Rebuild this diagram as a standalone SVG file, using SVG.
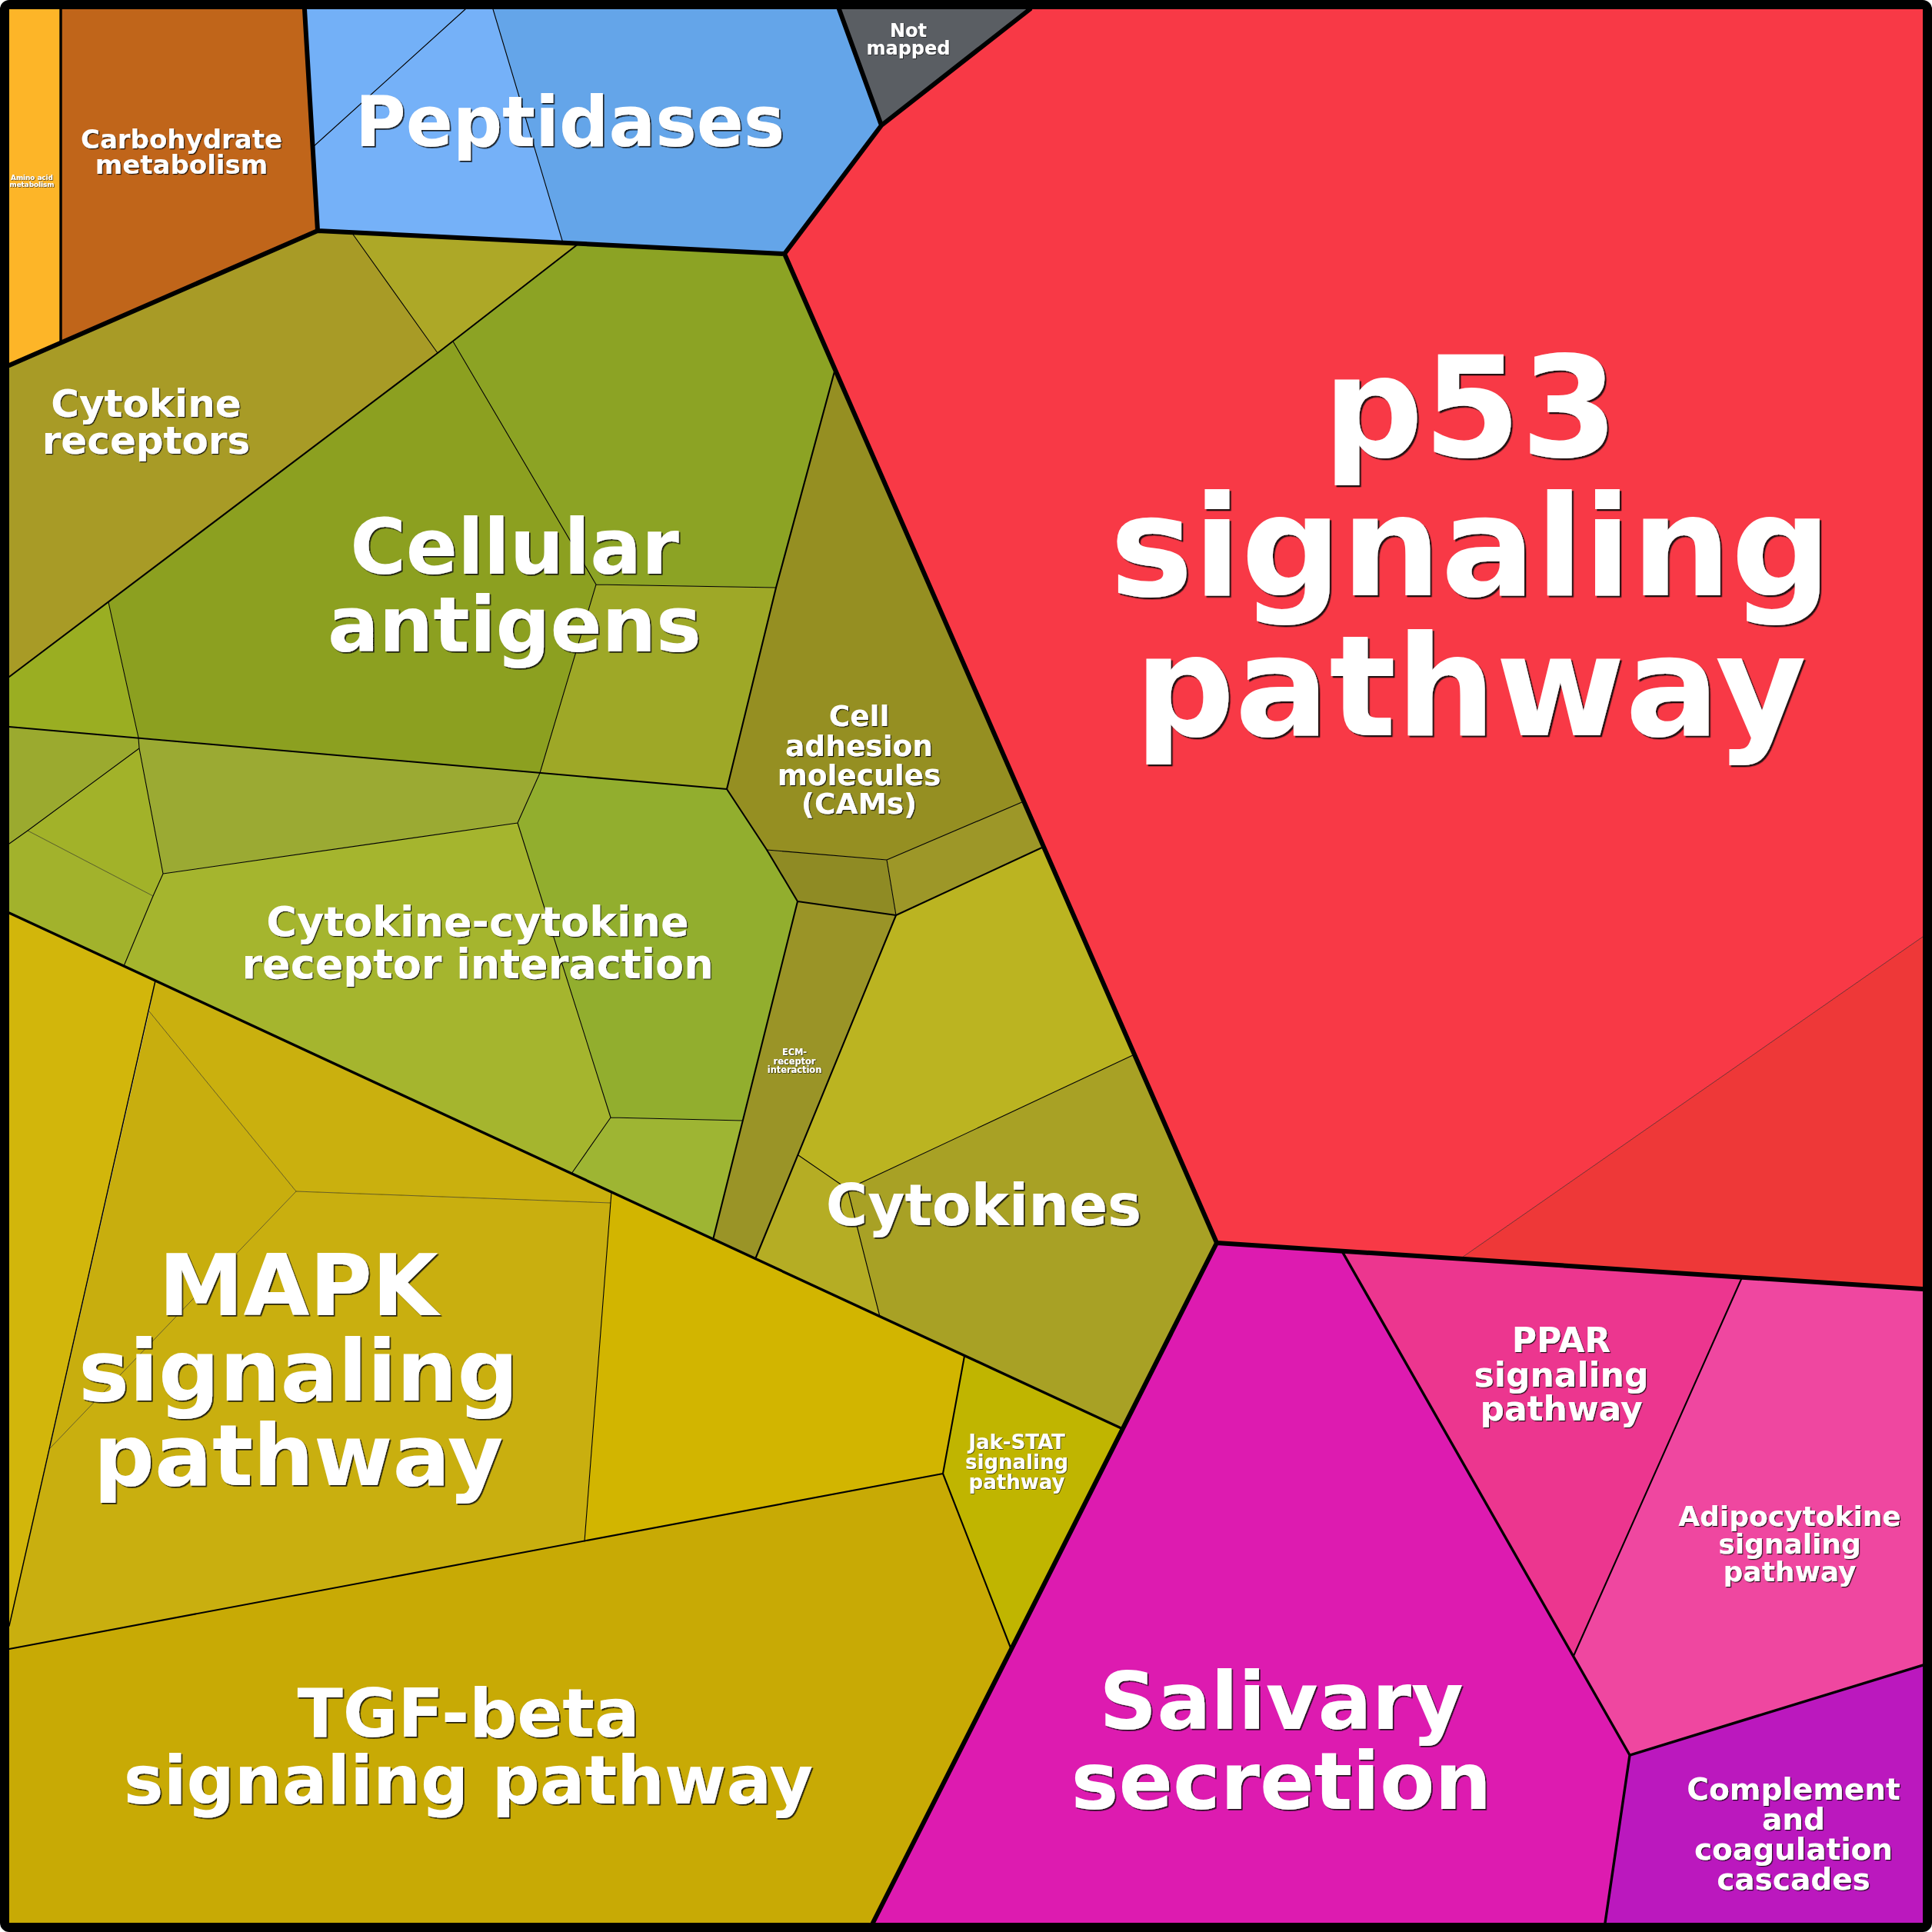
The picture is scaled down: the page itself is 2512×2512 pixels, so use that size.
<svg xmlns="http://www.w3.org/2000/svg" width="2512" height="2512" viewBox="0 0 2512 2512">
<defs>
<filter id="ds1" x="-5%" y="-5%" width="110%" height="110%"><feDropShadow dx="0.7" dy="0.7" stdDeviation="0" flood-color="#111" flood-opacity="0.9"/></filter>
<filter id="ds2" x="-5%" y="-5%" width="110%" height="110%"><feDropShadow dx="1.2" dy="1.2" stdDeviation="0" flood-color="#111" flood-opacity="0.9"/></filter>
<filter id="ds3" x="-5%" y="-5%" width="110%" height="110%"><feDropShadow dx="1.7" dy="1.7" stdDeviation="0" flood-color="#111" flood-opacity="0.9"/></filter>
<filter id="ds4" x="-5%" y="-5%" width="110%" height="110%"><feDropShadow dx="2.3" dy="2.3" stdDeviation="0" flood-color="#111" flood-opacity="0.9"/></filter>
</defs>
<style>
.b1{fill:none;stroke:#000;stroke-width:6;stroke-linejoin:round;stroke-linecap:round}
.b2{fill:none;stroke:#000;stroke-width:3.4;stroke-linejoin:round;stroke-linecap:round}
.b3{fill:none;stroke:#000;stroke-width:2.1;stroke-linejoin:round;stroke-linecap:round}
.b4{fill:none;stroke:#000;stroke-width:1.1;stroke-linejoin:round;stroke-linecap:round}
.b5{fill:none;stroke:#000;stroke-width:0.7;stroke-opacity:0.75;stroke-linejoin:round}
text{font-family:"DejaVu Sans","Liberation Sans",sans-serif;font-weight:bold;text-anchor:middle;fill:#ffffff}
.s1{filter:url(#ds1)}
.s2{filter:url(#ds2)}
.s3{filter:url(#ds3)}
.s4{filter:url(#ds4)}
</style>
<g id="cells">
  <g id="node-amino-acid-metabolism"><polygon points="12,12 79,12 79,446 12,475" fill="#FDB528"/></g>
  <g id="node-carbohydrate-metabolism"><polygon points="79,12 396,12 413,300 79,446" fill="#C0651A"/></g>
  <g id="node-peptidases">
    <polygon points="396,12 605,12 407,191" fill="#73B0F7"/>
    <polygon points="605,12 641,12 732,316 413,300 407,191" fill="#75B1F8"/>
    <polygon points="641,12 1091,12 1146,163 1020,330 732,316" fill="#64A5E9"/>
  </g>
  <g id="node-not-mapped"><polygon points="1091,12 1339,12 1146,163" fill="#5A5E63"/></g>
  <g id="node-p53">
    <polygon points="1339,12 2500,12 2500,1218 1898,1637 1582,1616 1020,330 1146,163" fill="#F83946"/>
    <polygon points="1898,1637 2500,1218 2500,1676" fill="#EE3838"/>
  </g>
  <g id="node-salivary-secretion"><polygon points="1582,1616 1745,1627 2119,2282 2087,2500 1135,2500" fill="#DD1BB0"/></g>
  <g id="node-ppar"><polygon points="1745,1627 2265,1661 2046,2153" fill="#EC368F"/></g>
  <g id="node-adipocytokine"><polygon points="2265,1661 2500,1676 2500,2165 2119,2282 2046,2153" fill="#EF47A0"/></g>
  <g id="node-complement"><polygon points="2119,2282 2500,2165 2500,2500 2087,2500" fill="#BB18BE"/></g>
  <g id="node-cytokine-receptors">
    <polygon points="12,475 413,300 457,302 569,459 12,880" fill="#A89B26"/>
    <polygon points="457,302 752,317 589,444 569,459" fill="#ADA827"/>
  </g>
  <g id="node-cellular-antigens">
    <polygon points="589,444 752,317 1020,330 1085,483 1009,764 775,760" fill="#8CA324"/>
    <polygon points="569,459 589,444 775,760 702,1005 180,959 141,783" fill="#8CA020"/>
    <polygon points="775,760 1009,764 945,1026 702,1005" fill="#9EA827"/>
    <polygon points="12,880 141,783 180,959 12,945" fill="#9AAE22"/>
  </g>
  <g id="node-cams">
    <polygon points="1085,483 1331,1042 1153,1118 997,1105 945,1026 1009,764" fill="#958F22"/>
    <polygon points="997,1105 1153,1118 1165,1190 1037,1172" fill="#8F8B24"/>
    <polygon points="1153,1118 1331,1042 1357,1101 1165,1190" fill="#9D9728"/>
  </g>
  <g id="node-ecm-receptor"><polygon points="1037,1172 1165,1190 982,1637 927,1612" fill="#9A9427"/></g>
  <g id="node-cytokines">
    <polygon points="1165,1190 1357,1101 1475,1371 1102,1546 1038,1502" fill="#BBB421"/>
    <polygon points="1038,1502 1102,1546 1144,1712 982,1637" fill="#B5AD24"/>
    <polygon points="1102,1546 1475,1371 1582,1616 1460,1858 1144,1712" fill="#A8A125"/>
  </g>
  <g id="node-cytokine-cytokine-receptor-interaction">
    <polygon points="12,945 180,959 181,973 36,1080 12,1097" fill="#9BAA2F"/>
    <polygon points="181,973 212,1136 199,1165 36,1080" fill="#A2B229"/>
    <polygon points="12,1097 36,1080 199,1165 161,1256 12,1187" fill="#A2B22C"/>
    <polygon points="180,959 702,1005 673,1070 212,1136 181,973" fill="#9BAA33"/>
    <polygon points="212,1136 673,1070 794,1453 743,1526 161,1256 199,1165" fill="#A5B52E"/>
    <polygon points="702,1005 945,1026 997,1105 1037,1172 965,1457 794,1453 673,1070" fill="#92AE2E"/>
    <polygon points="794,1453 965,1457 927,1612 743,1526" fill="#9EB533"/>
  </g>
  <g id="node-mapk">
    <polygon points="12,1187 202,1275 12,2114" fill="#D2B60B"/>
    <polygon points="202,1275 795,1550 794,1564 385,1549 194,1315" fill="#CAB00E"/>
    <polygon points="194,1315 385,1549 65,1883" fill="#C8AE0E"/>
    <polygon points="385,1549 794,1564 760,2004 12,2144 12,2114 65,1883" fill="#C9AF0F"/>
    <polygon points="795,1550 1254,1763 1226,1916 760,2004" fill="#D2B500"/>
  </g>
  <g id="node-jak-stat"><polygon points="1254,1763 1460,1858 1315,2145 1226,1916" fill="#C0B500"/></g>
  <g id="node-tgf-beta"><polygon points="12,2144 1226,1916 1315,2145 1135,2500 12,2500" fill="#C8AA05"/></g>
</g>
<g id="connectors">
  <path class="b5" d="M36,1080 L199,1165 M194,1315 L385,1549 L794,1564 M385,1549 L65,1883 M1898,1637 L2500,1218"/>
  <path class="b4" d="M605,12 L407,191 M641,12 L732,316 M457,302 L569,459 M589,444 L775,760 L1009,764 M775,760 L702,1005 M141,783 L180,959 L181,973 L212,1136 L673,1070 L702,1005 M181,973 L36,1080 L12,1097 M212,1136 L199,1165 L161,1256 M673,1070 L794,1453 L965,1457 M794,1453 L743,1526 M997,1105 L1153,1118 L1331,1042 M1153,1118 L1165,1190 M1038,1502 L1102,1546 L1475,1371 M1102,1546 L1144,1712 M795,1550 L760,2004"/>
  <path class="b4" style="stroke-width:1.5" d="M202,1275 L12,2114"/>
  <path class="b3" d="M569,459 L12,880 M569,459 L752,317 M12,945 L945,1026 M1085,483 L1009,764 L945,1026 L997,1105 L1037,1172 L927,1612 M1037,1172 L1165,1190 L1357,1101 M1165,1190 L982,1637 M12,2144 L1226,1916 L1254,1763 M1226,1916 L1315,2145 M2265,1661 L2046,2153"/>
  <path class="b2" d="M79,12 L79,446 M12,1187 L1460,1858 M1745,1627 L2119,2282 L2500,2165 M2119,2282 L2087,2500"/>
  <path class="b1" d="M396,12 L413,300 L12,475 M413,300 L1020,330 L1146,163 L1091,12 M1146,163 L1339,12 M1020,330 L1582,1616 L2500,1676 M1582,1616 L1135,2500"/>
  <rect x="6" y="6" width="2500" height="2500" rx="6" fill="none" stroke="#000" stroke-width="12"/>
</g>
<g id="labels">
  <g id="label-amino-acid-metabolism" font-size="8.8">
    <text class="s1" x="41.5" y="234"><tspan x="41.5">Amino acid</tspan><tspan x="41.5" dy="8.8">metabolism</tspan></text>
  </g>
  <g id="label-carbohydrate-metabolism" font-size="34">
    <text class="s2" x="236" y="193"><tspan x="236">Carbohydrate</tspan><tspan x="236" dy="33">metabolism</tspan></text>
  </g>
  <g id="label-peptidases" font-size="90">
    <text class="s3" x="741" y="190">Peptidases</text>
  </g>
  <g id="label-not-mapped" font-size="24">
    <text class="s1" x="1181" y="48"><tspan x="1181">Not</tspan><tspan x="1181" dy="23">mapped</tspan></text>
  </g>
  <g id="label-p53" font-size="182">
    <text class="s4" x="1912" y="593"><tspan x="1912">p53</tspan><tspan x="1912" dy="181">signaling</tspan><tspan x="1912" dy="182">pathway</tspan></text>
  </g>
  <g id="label-cytokine-receptors" font-size="50">
    <text class="s2" x="190" y="542"><tspan x="190">Cytokine</tspan><tspan x="190" dy="48">receptors</tspan></text>
  </g>
  <g id="label-cellular-antigens" font-size="99">
    <text class="s3" x="669" y="746"><tspan x="669">Cellular</tspan><tspan x="669" dy="101">antigens</tspan></text>
  </g>
  <g id="label-cams" font-size="37.5">
    <text class="s2" x="1117" y="944"><tspan x="1117">Cell</tspan><tspan x="1117" dy="38.5">adhesion</tspan><tspan x="1117" dy="38">molecules</tspan><tspan x="1117" dy="37.5">(CAMs)</tspan></text>
  </g>
  <g id="label-ecm-receptor" font-size="11.4">
    <text class="s1" x="1033" y="1372"><tspan x="1033">ECM-</tspan><tspan x="1033" dy="11.6">receptor</tspan><tspan x="1033" dy="11.6">interaction</tspan></text>
  </g>
  <g id="label-cytokines" font-size="74">
    <text class="s3" x="1279" y="1593">Cytokines</text>
  </g>
  <g id="label-cytokine-cytokine" font-size="54">
    <text class="s2" x="621" y="1217"><tspan x="621">Cytokine-cytokine</tspan><tspan x="621" dy="55">receptor interaction</tspan></text>
  </g>
  <g id="label-mapk" font-size="111">
    <text class="s3" x="388" y="1710"><tspan x="388">MAPK</tspan><tspan x="388" dy="111">signaling</tspan><tspan x="388" dy="110">pathway</tspan></text>
  </g>
  <g id="label-tgf-beta" font-size="87">
    <text class="s3" x="609" y="2258"><tspan x="609">TGF-beta</tspan><tspan x="609" dy="87">signaling pathway</tspan></text>
  </g>
  <g id="label-jak-stat" font-size="26">
    <text class="s1" x="1322" y="1884"><tspan x="1322">Jak-STAT</tspan><tspan x="1322" dy="26">signaling</tspan><tspan x="1322" dy="26">pathway</tspan></text>
  </g>
  <g id="label-salivary" font-size="104">
    <text class="s3" x="1666" y="2248"><tspan x="1666">Salivary</tspan><tspan x="1666" dy="104">secretion</tspan></text>
  </g>
  <g id="label-ppar" font-size="44">
    <text class="s2" x="2030" y="1758"><tspan x="2030">PPAR</tspan><tspan x="2030" dy="44.5">signaling</tspan><tspan x="2030" dy="44.5">pathway</tspan></text>
  </g>
  <g id="label-adipocytokine" font-size="36">
    <text class="s2" x="2327" y="1984"><tspan x="2327">Adipocytokine</tspan><tspan x="2327" dy="36">signaling</tspan><tspan x="2327" dy="36">pathway</tspan></text>
  </g>
  <g id="label-complement" font-size="39">
    <text class="s2" x="2332" y="2340"><tspan x="2332">Complement</tspan><tspan x="2332" dy="39">and</tspan><tspan x="2332" dy="39">coagulation</tspan><tspan x="2332" dy="39">cascades</tspan></text>
  </g>
</g>
</svg>
